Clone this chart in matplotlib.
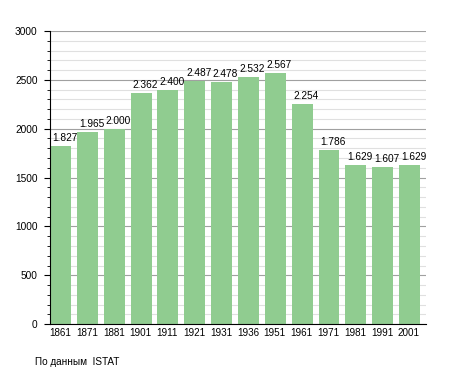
import matplotlib.pyplot as plt
from matplotlib.ticker import MultipleLocator
import numpy as np

plt.rcParams['font.family'] = ['Liberation Sans', 'DejaVu Sans']

years = ['1861', '1871', '1881', '1901', '1911', '1921', '1931',
         '1936', '1951', '1961', '1971', '1981', '1991', '2001']
population = [1827, 1965, 2000, 2362, 2400, 2487, 2478,
              2532, 2567, 2254, 1786, 1629, 1607, 1629]


def fmt(v):
    return f'{v:,}'.replace(',', '.')


fig = plt.figure(figsize=(4.55, 3.73), dpi=100)
ax = fig.add_axes([0.110, 0.131, 0.826, 0.786])

x = np.arange(len(years))
ax.set_axisbelow(True)
ax.bar(x, population, width=0.78, align='edge', color='#90cc90', zorder=2)

for xi, v in zip(x, population):
    ax.text(xi + 0.54, v + 30, fmt(v), ha='center', va='bottom',
            fontsize=7.3, color='black', zorder=3)

ax.set_xlim(0, len(years))
ax.set_ylim(0, 3000)
ax.set_xticks(x + 0.37)
ax.set_xticklabels(years, fontsize=7.1)
ax.tick_params(axis='x', length=0, pad=3)

ax.yaxis.set_major_locator(MultipleLocator(500))
ax.yaxis.set_minor_locator(MultipleLocator(100))
ax.tick_params(axis='y', which='major', length=4, labelsize=7.3, pad=5)
ax.tick_params(axis='y', which='minor', length=2)
ax.grid(axis='y', which='major', color='#a0a0a0', linewidth=0.8, zorder=0)
ax.grid(axis='y', which='minor', color='#e0e0e0', linewidth=0.8, zorder=0)

ax.spines['right'].set_visible(False)
ax.spines['top'].set_visible(False)
ax.spines['left'].set_linewidth(0.8)
ax.spines['bottom'].set_linewidth(0.8)

fig.text(35 / 455, 1 - 362 / 373, 'По данным  ISTAT', fontsize=7.2,
         va='center', ha='left')

fig.savefig('out.png', dpi=100)
